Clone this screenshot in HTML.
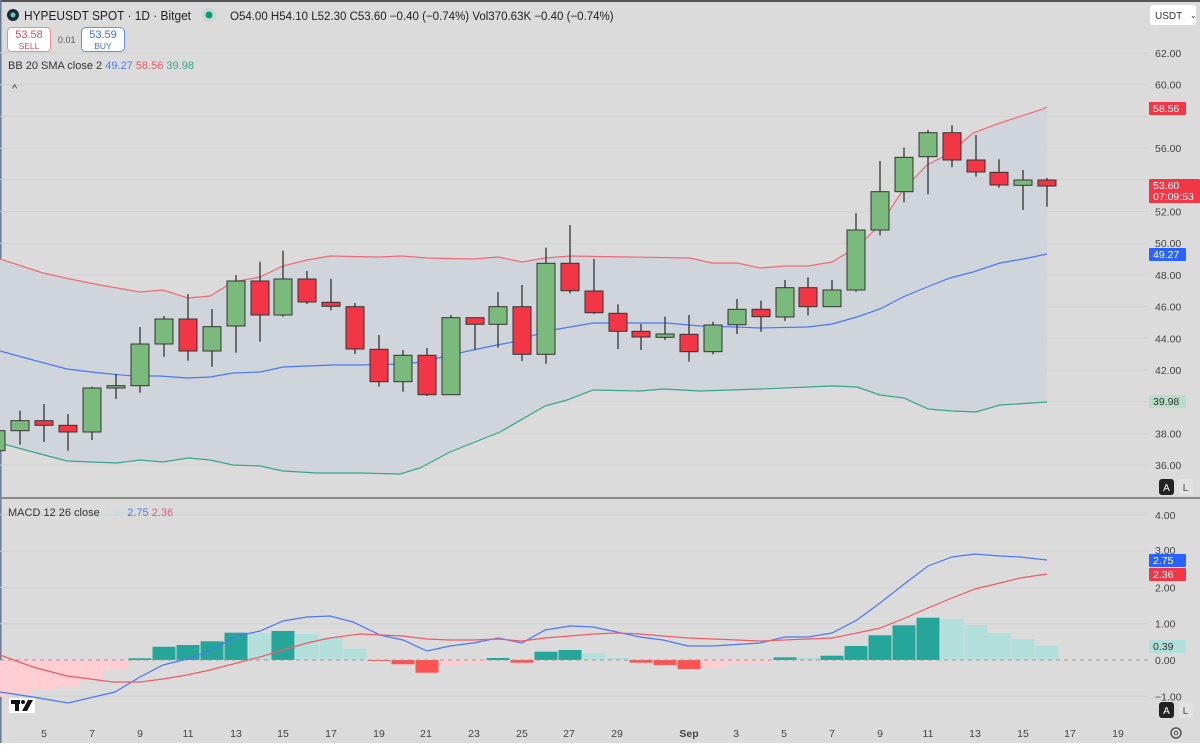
<!DOCTYPE html>
<html><head><meta charset="utf-8"><style>
body{margin:0;background:#dbdbdb;font-family:"Liberation Sans",sans-serif;}
#w{position:relative;width:1200px;height:746px;overflow:hidden;background:#dbdbdb}
svg{position:absolute;left:0;top:0}
</style></head><body><div id="w">
<svg id="s" width="1200" height="746" xmlns="http://www.w3.org/2000/svg" font-family="Liberation Sans, sans-serif">
<rect x="0" y="0" width="1200" height="2" fill="#555"/>
<rect x="0" y="0" width="1.5" height="746" fill="#6a7a9a"/>
<g id="grid"></g>
<path id="band" fill="#d0d5db" stroke="none"/>
<g id="lines"></g>
<g id="candles"></g>
<g id="macd"></g>
<rect x="0" y="497" width="1200" height="2" fill="#8a8a8a"/>
<line x1="0" y1="660" x2="1148" y2="660" stroke="#999" stroke-dasharray="4,4" stroke-width="1"/>
<circle cx="13" cy="15" r="6" fill="#1e2b36"/><circle cx="13" cy="15" r="2.5" fill="#5fd0c0"/>
<text x="24" y="20" font-size="13" fill="#222" textLength="167" lengthAdjust="spacingAndGlyphs">HYPEUSDT SPOT · 1D · Bitget</text>
<circle cx="209" cy="15" r="7" fill="#c5d8d2"/><circle cx="209" cy="15" r="3.5" fill="#0a9a7a"/>
<text x="230" y="20" font-size="11.5" fill="#222">O54.00 H54.10 L52.30 C53.60 −0.40 (−0.74%) Vol370.63K −0.40 (−0.74%)</text>
<rect x="7.5" y="27.5" width="43" height="24" rx="4" fill="#fff" stroke="#f08a90"/>
<text x="29" y="38" font-size="11" fill="#e8434f" text-anchor="middle">53.58</text>
<text x="29" y="49" font-size="8.5" fill="#e8434f" text-anchor="middle">SELL</text>
<text x="58" y="43" font-size="9" fill="#555">0.01</text>
<rect x="81.5" y="27.5" width="43" height="24" rx="4" fill="#fff" stroke="#6b8ef5"/>
<text x="103" y="38" font-size="11" fill="#3b6de8" text-anchor="middle">53.59</text>
<text x="103" y="49" font-size="8.5" fill="#3b6de8" text-anchor="middle">BUY</text>
<text x="8" y="69" font-size="11" fill="#333">BB 20 SMA close 2 <tspan fill="#4f7cf0">49.27</tspan> <tspan fill="#e85a64">58.56</tspan> <tspan fill="#3aa58a">39.98</tspan></text>
<text x="12" y="92" font-size="11" fill="#333">^</text>
<text x="8" y="516" font-size="11" fill="#333">MACD 12 26 close <tspan fill="#bfe0dc">0.39</tspan> <tspan fill="#4f7cf0">2.75</tspan> <tspan fill="#e85a64">2.36</tspan></text>
<rect x="1150" y="5" width="46" height="20" rx="3" fill="#fff"/>
<text x="1155" y="19" font-size="10" fill="#333">USDT</text><text x="1190" y="18" font-size="8" fill="#333">⌄</text>
<g id="axis" font-size="10.5" fill="#444"></g>
<g id="tags" font-size="10.5"></g>
<rect x="1159" y="479" width="15" height="16" rx="3" fill="#222"/><text x="1166.5" y="491" font-size="10" fill="#fff" text-anchor="middle">A</text>
<rect x="1178" y="479" width="15" height="16" rx="3" fill="#e2e2e2"/><text x="1185.5" y="491" font-size="10" fill="#444" text-anchor="middle">L</text>
<rect x="1159" y="702" width="15" height="16" rx="3" fill="#222"/><text x="1166.5" y="714" font-size="10" fill="#fff" text-anchor="middle">A</text>
<rect x="1178" y="702" width="15" height="16" rx="3" fill="#e2e2e2"/><text x="1185.5" y="714" font-size="10" fill="#444" text-anchor="middle">L</text>
<circle cx="1176" cy="733" r="5" fill="none" stroke="#555" stroke-width="1.5"/><circle cx="1176" cy="733" r="1.8" fill="none" stroke="#555"/>
<rect x="9" y="698" width="26" height="15" fill="#fff"/>
<rect x="11" y="700" width="9" height="4" fill="#111"/><rect x="15" y="700" width="4" height="11" fill="#111"/>
<circle cx="23" cy="702" r="2" fill="#111"/><polygon points="28,700 33,700 27,711 22,711" fill="#111"/>
<rect x="0" y="743" width="1200" height="3" fill="#fff"/>
</svg></div>
<script>
var NS="http://www.w3.org/2000/svg";
function el(p,t,a,txt){var e=document.createElementNS(NS,t);for(var k in a)e.setAttribute(k,a[k]);if(txt!=null)e.textContent=txt;document.getElementById(p).appendChild(e);return e;}
for(var p=36;p<=62;p+=2){var y=53+(62-p)*15.85;el("grid","line",{x1:0,x2:1148,y1:y,y2:y,stroke:"#d2d2d2","stroke-width":1});
 if(p!=58&&p!=54)el("axis","text",{x:1155,y:y+4},p.toFixed(2));}
[4,2,1,0,-1].forEach(function(v){var y=660-v*36.3;el("axis","text",{x:1155,y:y+4},(v<0?"−1.00":v.toFixed(2)));});
[4,3,2,1,-1].forEach(function(v){var y=660-v*36.3;el("grid","line",{x1:0,x2:1148,y1:y,y2:y,stroke:"#d2d2d2"});});
el("axis","text",{x:1155,y:554},"3.00");
var xl=[["5",44],["7",92],["9",140],["11",188],["13",236],["15",283],["17",331],["19",379],["21",426],["23",474],["25",522],["27",569],["29",617],["Sep",689],["3",736],["5",784],["7",832],["9",880],["11",928],["13",975],["15",1023],["17",1070],["19",1118]];
xl.forEach(function(a){el("axis","text",{x:a[1],y:737,"text-anchor":"middle","font-weight":a[0]=="Sep"?"bold":"normal"},a[0]);});
var up=[[0,259],[43,273],[70,279],[100,285],[140,292],[163,290],[188,298],[210,296],[233,282],[260,277],[283,266],[307,260],[330,256],[377,257],[402,256],[427,258],[473,259],[498,257],[522,262],[545,258],[570,256],[690,258],[712,263],[737,263],[760,268],[785,266],[808,266],[832,262],[857,247],[880,225],[903,190],[927,165],[950,153],[973,133],[1000,123],[1040,110],[1047,107]];
var mid=[[0,351],[33,360],[67,369],[100,373],[133,376],[160,376],[187,378],[210,377],[233,373],[260,372],[283,367],[307,366],[333,365],[360,365],[400,364],[423,362],[450,355],[473,350],[497,345],[513,342],[547,331],[593,323],[667,323],[700,326],[737,327],[760,328],[808,327],[832,324],[857,317],[880,309],[903,297],[927,287],[950,278],[973,272],[1000,263],[1023,259],[1047,254]];
var lo=[[0,443],[33,452],[67,461],[117,463],[140,460],[163,462],[188,458],[210,460],[233,465],[260,466],[283,471],[317,473],[360,473],[400,474],[420,468],[450,452],[500,432],[545,406],[567,400],[593,390],[640,391],[663,389],[700,391],[760,389],[832,386],[857,387],[880,395],[904,398],[928,409],[952,411],[976,412],[1000,405],[1047,402]];
function pts(a){return a.map(function(q){return q[0]+","+q[1]}).join(" ");}
var bd="M"+up.map(function(q){return q[0]+","+q[1]}).join(" L")+" L"+lo.slice().reverse().map(function(q){return q[0]+","+q[1]}).join(" L")+"Z";
document.getElementById("band").setAttribute("d",bd);
el("lines","polyline",{points:pts(up),fill:"none",stroke:"#ef6b73","stroke-width":1.2});
el("lines","polyline",{points:pts(mid),fill:"none",stroke:"#4a78f0","stroke-width":1.2});
el("lines","polyline",{points:pts(lo),fill:"none",stroke:"#35a58a","stroke-width":1.2});
var C=[[-4,450.7,430.7,452,428],[20,430.7,420.7,410.7,444.7],[44,420.7,425.3,404,442],[68,425.3,432,414,450.7],[92,432,388,386.7,440],[116,388,385.7,374,399],[140,385.7,344,327,392.7],[164,344,319,316,356.7],[188,319,351,294,360.7],[212,351,326.7,309,366.7],[236,326,281,275,352.7],[260,281,315,261.7,341.7],[283,315,279,250.7,316.7],[307,279,302,271,304],[331,302.3,306.3,278.7,310.3],[355,306.7,349,303,354],[379,349.3,381.7,335,386.7],[403,381.7,355.3,350,391.7],[427,355.3,394.7,348,396],[451,394.7,317.7,315,394.7],[475,317.7,324.3,317.7,350],[498,324.3,306.7,292,347.7],[522,306.7,354.3,285,361],[546,354.3,263.3,247.7,363.7],[570,263.3,290.7,225,293.3],[594,291,312.7,259,314],[618,313.3,331.3,304.3,349],[641,331.3,337,324,350],[665,337.3,334,316.7,340],[689,334.3,351.7,315,361.7],[713,351.7,325,321.7,354.3],[737,324.7,309.3,299,334],[761,309.3,316.7,300.7,331.7],[785,317,287.7,280,321],[808,287.7,306.7,277.3,315.3],[832,306.7,290,280,306.7],[856,290,230,213.3,291.7],[880,230,191.7,161,235.3],[904,191.7,157.3,147.7,202.3],[928,156.7,132.7,130,194.3],[952,132.7,160,125.3,167.3],[976,160,172,135,176.7],[999,172.3,185,159.3,187.7],[1023,185.3,180,170,210],[1047,180,186,178,206.7]];
C.forEach(function(c){var g=c[2]<c[1];var t=Math.min(c[1],c[2]),b=Math.max(c[1],c[2]);
 el("candles","line",{x1:c[0],x2:c[0],y1:c[3],y2:c[4],stroke:"#333","stroke-width":1.3});
 el("candles","rect",{x:c[0]-9,y:t,width:18,height:Math.max(b-t,2),fill:g?"#7bba7d":"#f23645",stroke:"#333","stroke-width":1});});
var H=[[-4,696.7,"r"],[20,693.3,"r"],[44,689.3,"r"],[68,686.7,"r"],[92,678.3,"r"],[116,670,"r"],[140,658.3,"G"],[164,646.7,"G"],[188,645,"G"],[212,641.3,"G"],[236,632.7,"G"],[260,633.3,"g"],[283,631,"G"],[307,634,"g"],[331,637.3,"g"],[355,648.7,"g"],[379,661,"R"],[403,664.3,"R"],[427,672.7,"R"],[451,666,"r"],[475,662.7,"r"],[498,658,"G"],[522,662.7,"R"],[546,651.7,"G"],[570,650,"G"],[594,653,"g"],[618,658,"g"],[641,662.7,"R"],[665,665,"R"],[689,669,"R"],[713,667.3,"r"],[737,663.3,"r"],[761,662.7,"r"],[785,657.3,"G"],[808,657.3,"g"],[832,655.7,"G"],[856,646,"G"],[880,635.3,"G"],[904,625.3,"G"],[928,617.7,"G"],[952,619,"g"],[976,625,"g"],[999,633,"g"],[1023,639,"g"],[1047,646,"g"]];
var col={G:"#26a69a",g:"#b2dfdb",R:"#ff5252",r:"#ffcdd2"};
H.forEach(function(h){var t=Math.min(h[1],660),b=Math.max(h[1],660);el("macd","rect",{x:h[0]-11.5,y:t,width:23,height:Math.max(b-t,1),fill:col[h[2]]});});
var ml=[[0,692],[33,697],[68,703],[115,692],[140,677],[163,665],[187,659],[210,651],[237,636],[260,631],[283,621],[307,617],[330,616],[353,622],[380,635],[403,640],[427,651],[450,646],[473,643],[498,638],[522,643],[545,630],[570,626],[593,627],[617,632],[640,637],[663,640],[688,646],[713,646],[760,643],[785,637],[808,637],[832,633],[857,620],[880,603],[903,585],[928,566],[952,557],[975,554],[1000,556],[1020,557],[1047,560]];
var sl=[[0,655],[33,667],[67,676],[113,682],[140,682],[163,679],[187,675],[210,670],[237,663],[260,657],[283,650],[307,643],[330,638],[360,634],[403,636],[427,639],[450,640],[473,640],[498,639],[522,641],[545,638],[570,636],[593,634],[617,633],[640,634],[663,636],[688,638],[713,639],[760,641],[808,639],[832,638],[857,633],[880,628],[903,619],[928,608],[952,598],[975,589],[1000,583],[1020,578],[1047,574]];
el("macd","polyline",{points:pts(ml),fill:"none",stroke:"#4a78f0","stroke-width":1.2});
el("macd","polyline",{points:pts(sl),fill:"none",stroke:"#ef5a65","stroke-width":1.2});
function tag(y,h,bg,fg,t1,t2){el("tags","rect",{x:1149,y:y,width:t2?51:37,height:h,fill:bg,rx:1});el("tags","text",{x:1153,y:y+10,fill:fg},t1);if(t2)el("tags","text",{x:1153,y:y+21,fill:fg},t2);}
tag(102,13,"#f23645","#fff","58.56");
tag(179,24,"#f23645","#fff","53.60","07:09:53");
tag(248,13,"#2962ff","#fff","49.27");
tag(395,13,"#b9ddc9","#333","39.98");
tag(554,13,"#2962ff","#fff","2.75");
tag(568,13,"#f23645","#fff","2.36");
tag(640,13,"#b2dfdb","#333","0.39");
</script>
</body></html>
